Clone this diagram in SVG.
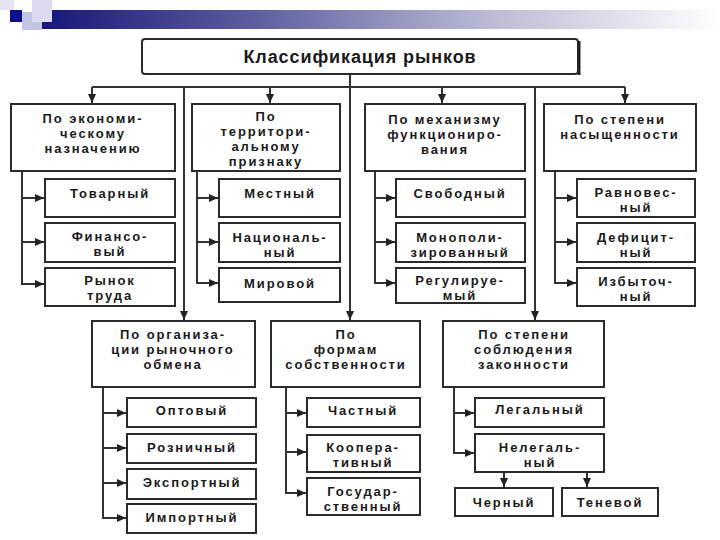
<svg xmlns="http://www.w3.org/2000/svg" width="720" height="540" viewBox="0 0 720 540">
<defs>
<linearGradient id="band" x1="0" y1="0" x2="1" y2="0">
<stop offset="0" stop-color="#16167a"/>
<stop offset="0.3" stop-color="#5a5a9c"/>
<stop offset="0.65" stop-color="#b8b8d4"/>
<stop offset="1" stop-color="#ffffff"/>
</linearGradient>
<marker id="ah" markerUnits="userSpaceOnUse" markerWidth="9" markerHeight="8" refX="9" refY="4" orient="auto">
<path d="M0,0 L9,4 L0,8 z" fill="#222"/>
</marker>
</defs>
<style>
.box{fill:#fff;stroke:#2a2a2a;stroke-width:2}
.ln{fill:none;stroke:#333;stroke-width:2}
.ar{fill:none;stroke:#333;stroke-width:2;marker-end:url(#ah)}
text{font-family:"Liberation Sans",Arial,sans-serif;font-weight:bold;font-size:13px;fill:#1a1a1a;text-anchor:middle;letter-spacing:1.9px}
.title{font-size:18px;letter-spacing:0.9px}
</style>
<rect width="720" height="540" fill="#fff"/>
<g id="header-decor">
<rect x="40" y="10" width="680" height="19" fill="url(#band)"/>
<rect x="22" y="12" width="20" height="18" fill="#c4c4e4"/>
<rect x="32" y="0" width="20" height="22" fill="#dcdcf0"/>
<rect x="0" y="0" width="14" height="10" fill="#e4e4f4"/>
<rect x="10" y="10" width="12" height="12" fill="#10108a"/>
</g>
<g id="connectors">
<path class="ln" d="M92,87 H625"/>
<path class="ar" d="M350,74 V320"/>
<path class="ar" d="M92,87 V103"/>
<path class="ar" d="M270,87 V103"/>
<path class="ar" d="M442,87 V103"/>
<path class="ar" d="M625,87 V103"/>
<path class="ar" d="M184,87 V320"/>
<path class="ar" d="M535,87 V320"/>
<path class="ar" d="M22,171 V284 H44"/>
<path class="ar" d="M22,198 H44"/>
<path class="ar" d="M22,242 H44"/>
<path class="ar" d="M197,171 V283 H218"/>
<path class="ar" d="M197,198 H218"/>
<path class="ar" d="M197,242 H218"/>
<path class="ar" d="M375,171 V283 H395"/>
<path class="ar" d="M375,198 H395"/>
<path class="ar" d="M375,242 H395"/>
<path class="ar" d="M555,171 V283 H576"/>
<path class="ar" d="M555,198 H576"/>
<path class="ar" d="M555,242 H576"/>
<path class="ar" d="M103,387 V518 H126"/>
<path class="ar" d="M103,413 H126"/>
<path class="ar" d="M103,448 H126"/>
<path class="ar" d="M103,483 H126"/>
<path class="ar" d="M286,387 V493 H306"/>
<path class="ar" d="M286,413 H306"/>
<path class="ar" d="M286,452 H306"/>
<path class="ar" d="M454,387 V453 H474"/>
<path class="ar" d="M454,413 H474"/>
<path class="ar" d="M504,472 V487"/>
<path class="ar" d="M587,472 V487"/>
</g>
<g id="title">
<rect class="box" x="142" y="39" width="436" height="35" rx="3"/>
<path d="M579,41 V75" stroke="#222" stroke-width="3"/>
<text class="title" x="360" y="63">Классификация рынков</text>
</g>
<g id="h-econ">
<rect class="box" x="11" y="104" width="164" height="67"/>
<text x="93" y="123">По экономи-</text>
<text x="93" y="138">ческому</text>
<text x="93" y="153">назначению</text>
</g>
<g id="h-terr">
<rect class="box" x="192" y="104" width="148" height="67"/>
<text x="266" y="121">По</text>
<text x="266" y="136">территори-</text>
<text x="266" y="151">альному</text>
<text x="266" y="166">признаку</text>
</g>
<g id="h-mech">
<rect class="box" x="365" y="104" width="160" height="67"/>
<text x="445" y="124">По механизму</text>
<text x="445" y="139">функциониро-</text>
<text x="445" y="154">вания</text>
</g>
<g id="h-sat">
<rect class="box" x="544" y="104" width="152" height="67"/>
<text x="620" y="124">По степени</text>
<text x="620" y="139">насыщенности</text>
</g>
<g id="s-tovar"><rect class="box" x="45" y="179" width="130" height="38"/><text x="110" y="198">Товарный</text></g>
<g id="s-fin"><rect class="box" x="45" y="223" width="130" height="39"/><text x="110" y="241">Финансо-</text><text x="110" y="256">вый</text></g>
<g id="s-trud"><rect class="box" x="45" y="268" width="130" height="38"/><text x="110" y="285">Рынок</text><text x="110" y="300">труда</text></g>
<g id="s-mest"><rect class="box" x="219" y="179" width="121" height="38"/><text x="280" y="198">Местный</text></g>
<g id="s-nac"><rect class="box" x="219" y="223" width="121" height="39"/><text x="280" y="242">Националь-</text><text x="280" y="257">ный</text></g>
<g id="s-mir"><rect class="box" x="219" y="268" width="121" height="34"/><text x="280" y="288">Мировой</text></g>
<g id="s-svob"><rect class="box" x="396" y="179" width="129" height="38"/><text x="460" y="198">Свободный</text></g>
<g id="s-mono"><rect class="box" x="396" y="223" width="129" height="39"/><text x="460" y="242">Монополи-</text><text x="460" y="257">зированный</text></g>
<g id="s-reg"><rect class="box" x="396" y="268" width="129" height="35"/><text x="460" y="285">Регулируе-</text><text x="460" y="300">мый</text></g>
<g id="s-ravn"><rect class="box" x="577" y="179" width="118" height="38"/><text x="636" y="197">Равновес-</text><text x="636" y="212">ный</text></g>
<g id="s-def"><rect class="box" x="577" y="223" width="118" height="39"/><text x="636" y="242">Дефицит-</text><text x="636" y="257">ный</text></g>
<g id="s-izb"><rect class="box" x="577" y="268" width="118" height="38"/><text x="636" y="286">Избыточ-</text><text x="636" y="301">ный</text></g>
<g id="h-org">
<rect class="box" x="92" y="321" width="163" height="66"/>
<text x="173" y="339">По организа-</text>
<text x="173" y="354">ции рыночного</text>
<text x="173" y="369">обмена</text>
</g>
<g id="h-form">
<rect class="box" x="271" y="321" width="149" height="66"/>
<text x="346" y="339">По</text>
<text x="346" y="354">формам</text>
<text x="346" y="369">собственности</text>
</g>
<g id="h-zak">
<rect class="box" x="443" y="321" width="161" height="66"/>
<text x="524" y="339">По степени</text>
<text x="524" y="354">соблюдения</text>
<text x="524" y="369">законности</text>
</g>
<g id="s-opt"><rect class="box" x="127" y="398" width="129" height="29"/><text x="192" y="415">Оптовый</text></g>
<g id="s-rozn"><rect class="box" x="127" y="434" width="129" height="29"/><text x="192" y="452">Розничный</text></g>
<g id="s-exp"><rect class="box" x="127" y="469" width="129" height="30"/><text x="192" y="487">Экспортный</text></g>
<g id="s-imp"><rect class="box" x="127" y="504" width="129" height="29"/><text x="192" y="522">Импортный</text></g>
<g id="s-chast"><rect class="box" x="307" y="398" width="113" height="29"/><text x="363" y="415">Частный</text></g>
<g id="s-koop"><rect class="box" x="307" y="435" width="113" height="37"/><text x="363" y="452">Коопера-</text><text x="363" y="467">тивный</text></g>
<g id="s-gos"><rect class="box" x="307" y="478" width="113" height="37"/><text x="363" y="496">Государ-</text><text x="363" y="511">ственный</text></g>
<g id="s-leg"><rect class="box" x="475" y="398" width="129" height="29"/><text x="540" y="414">Легальный</text></g>
<g id="s-neleg"><rect class="box" x="475" y="434" width="129" height="38"/><text x="540" y="452">Нелегаль-</text><text x="540" y="467">ный</text></g>
<g id="s-cher"><rect class="box" x="455" y="488" width="98" height="28"/><text x="504" y="507">Черный</text></g>
<g id="s-ten"><rect class="box" x="562" y="488" width="96" height="28"/><text x="610" y="507">Теневой</text></g>
</svg>
